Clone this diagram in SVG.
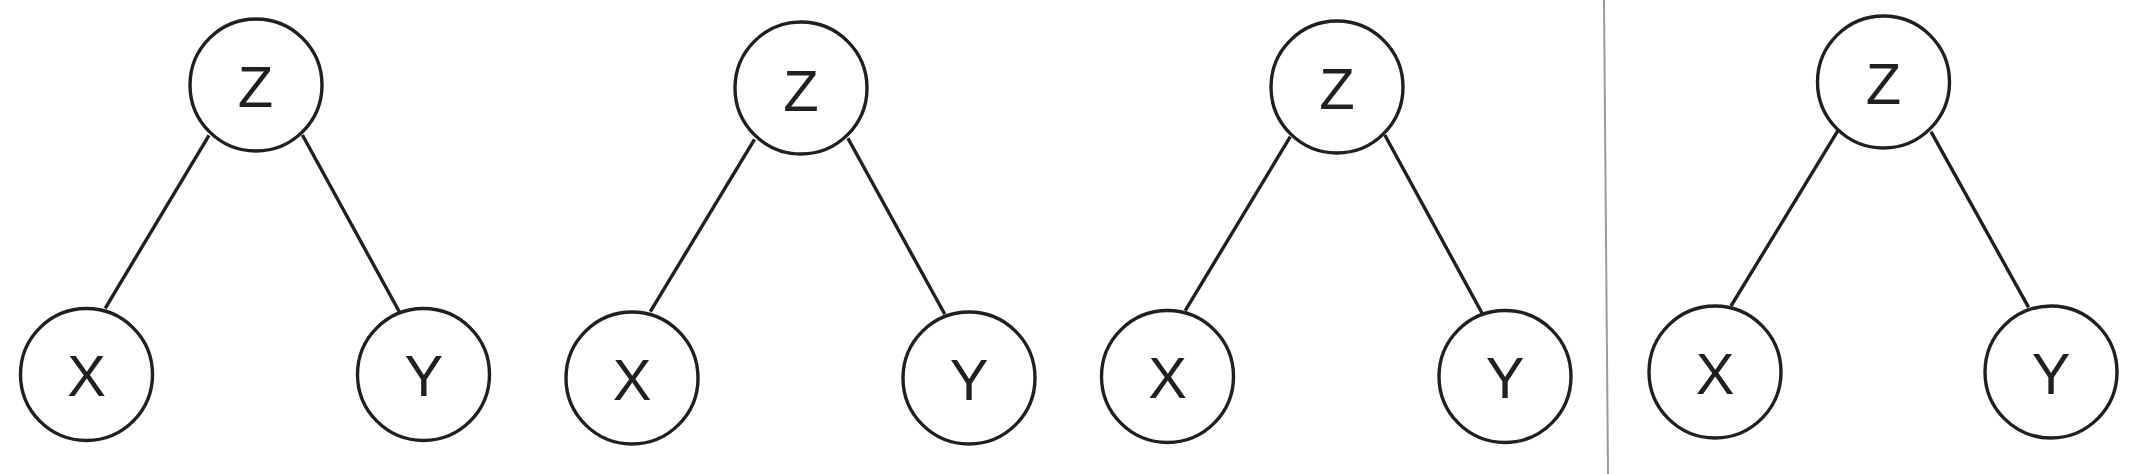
<svg xmlns="http://www.w3.org/2000/svg" width="2142" height="474" viewBox="0 0 2142 474">
<style>
.node circle{fill:#fff;stroke:#231f20;stroke-width:3.4}
.node text{font-family:"Liberation Sans",Arial,sans-serif;font-size:58px;fill:#231f20;text-anchor:middle}
.edges line{stroke:#231f20;stroke-width:3.4}
.divider{stroke:#9a9a9a;stroke-width:2}
</style>
<rect width="2142" height="474" fill="#fff"/>
<g id="connectors" class="edges">
<line x1="209" y1="135.3" x2="105.2" y2="308.3"/>
<line x1="302.4" y1="135" x2="399.3" y2="311.7"/>
<line x1="754.5" y1="139.3" x2="650.3" y2="311.7"/>
<line x1="847.9" y1="138.3" x2="944.8" y2="314.3"/>
<line x1="1290.3" y1="136.7" x2="1185.2" y2="310.7"/>
<line x1="1384.8" y1="135" x2="1482.1" y2="313.3"/>
<line x1="1837.9" y1="130.7" x2="1731" y2="306"/>
<line x1="1931" y1="131.7" x2="2028.6" y2="307.3"/>
</g>
<line class="divider" x1="1604" y1="0" x2="1608" y2="474"/>
<g id="z1" class="node"><circle cx="256" cy="85" r="66"/><text x="255.5" y="107">Z</text></g>
<g id="x1" class="node"><circle cx="86.5" cy="374.5" r="66"/><text x="86.7" y="396">X</text></g>
<g id="y1" class="node"><circle cx="423.5" cy="374.5" r="66"/><text x="423.8" y="396">Y</text></g>
<g id="z2" class="node"><circle cx="801" cy="88" r="66"/><text x="801" y="110.5">Z</text></g>
<g id="x2" class="node"><circle cx="632" cy="378" r="66"/><text x="632" y="400">X</text></g>
<g id="y2" class="node"><circle cx="969" cy="378" r="66"/><text x="969" y="400">Y</text></g>
<g id="z3" class="node"><circle cx="1337" cy="87" r="66"/><text x="1337" y="109">Z</text></g>
<g id="x3" class="node"><circle cx="1167.5" cy="376.5" r="66"/><text x="1167.5" y="398">X</text></g>
<g id="y3" class="node"><circle cx="1505" cy="376.5" r="66"/><text x="1505" y="398">Y</text></g>
<g id="z4" class="node"><circle cx="1883.5" cy="82" r="66"/><text x="1883.5" y="103.5">Z</text></g>
<g id="x4" class="node"><circle cx="1715" cy="372" r="66"/><text x="1715" y="393.5">X</text></g>
<g id="y4" class="node"><circle cx="2051" cy="372" r="66"/><text x="2051" y="393.5">Y</text></g>
</svg>
